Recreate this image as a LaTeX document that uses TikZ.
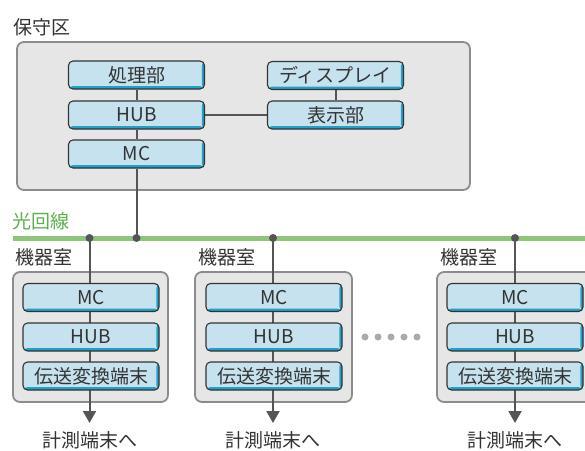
\documentclass[tikz,border=0pt]{standalone}
\usepackage{fontspec}
\newfontfamily\jp{Noto Sans CJK JP}
\usetikzlibrary{arrows.meta}
\pgfdeclarelayer{bg}
\pgfdeclarelayer{mid}
\pgfsetlayers{bg,mid,main}
\definecolor{panelfill}{HTML}{E6E6E6}
\definecolor{panelline}{HTML}{8C8C8C}
\definecolor{boxfill}{HTML}{C6E2EE}
\definecolor{boxline}{HTML}{333333}
\definecolor{shadowc}{HTML}{22A0C8}
\definecolor{textc}{HTML}{333333}
\definecolor{linec}{HTML}{555555}
\definecolor{greenline}{HTML}{8EC67C}
\definecolor{greentext}{HTML}{5AB04C}
\definecolor{dotsc}{HTML}{AAAAAA}
\tikzset{
  panel/.style={draw=panelline, line width=1.8pt, fill=panelfill, rounded corners=7pt, inner sep=0pt},
  ibox/.style={draw=boxline, line width=1.1pt, fill=boxfill, rounded corners=4.5pt,
    minimum width=136pt, minimum height=28pt, inner sep=0pt, text=textc,
    font=\jp\fontsize{19pt}{22pt}\selectfont,
    path picture={
      \fill[shadowc] ([yshift=3pt]path picture bounding box.south west) rectangle (path picture bounding box.south east);
      \fill[shadowc] ([xshift=-2.6pt]path picture bounding box.north east) rectangle (path picture bounding box.south east);
    }},
  lbl/.style={text=textc, inner sep=0pt, font=\jp\fontsize{19pt}{22pt}\selectfont},
  conn/.style={draw=linec, line width=2pt},
  jdot/.style={circle, fill=linec, inner sep=0pt, minimum size=8pt},
  edot/.style={circle, fill=dotsc, inner sep=0pt, minimum size=7pt},
  arr/.style={conn, -{Triangle[length=12pt, width=13pt]}}
}
\begin{document}
\begin{tikzpicture}[x=1pt, y=-1pt]
\useasboundingbox (0,0) rectangle (585,450);
\clip (0,0) rectangle (585,450);

% ---------- maintenance area ----------
\node[lbl, anchor=west] (hlabel) at (13,27) {保守区};
\begin{pgfonlayer}{bg}
\node[panel, minimum width=453pt, minimum height=148pt] (hoshu) at (243.5,116) {};
\end{pgfonlayer}
\node[ibox] (proc) at (136.5,75) {処理部};
\node[ibox] (hub0) at (136.5,115) {HUB};
\node[ibox] (mc0)  at (136.5,154) {MC};
\node[ibox] (disp) at (335.5,75.5) {ディスプレイ};
\node[ibox] (show) at (335.5,115) {表示部};

% ---------- optical line ----------
\node[lbl, anchor=west, text=greentext] (glabel) at (12,221) {光回線};
\coordinate (gl) at (13,238);
\coordinate (gr) at (590,238);
\begin{pgfonlayer}{bg}
\draw[greenline, line width=5pt] (gl) -- (gr);
\end{pgfonlayer}
\node[jdot] (d0) at (136.5,238) {};
\node[jdot] (d1) at (89.5,238) {};
\node[jdot] (d2) at (273,238) {};
\node[jdot] (d3) at (515,238) {};

% ---------- equipment rooms ----------
\node[lbl, anchor=west] (r1label) at (15,257) {機器室};
\node[lbl, anchor=west] (r2label) at (198,257) {機器室};
\node[lbl, anchor=west] (r3label) at (440,257) {機器室};
\begin{pgfonlayer}{bg}
\node[panel, minimum width=155pt, minimum height=130pt] (room1) at (90.5,337) {};
\node[panel, minimum width=157pt, minimum height=130pt] (room2) at (273.5,337) {};
\node[panel, minimum width=157pt, minimum height=130pt] (room3) at (515.5,337) {};
\end{pgfonlayer}

\node[ibox] (mc1)  at (91,297.5) {MC};
\node[ibox] (hub1) at (91,337) {HUB};
\node[ibox] (tr1)  at (91,376) {伝送変換端末};
\node[ibox] (mc2)  at (274,297.5) {MC};
\node[ibox] (hub2) at (274,337) {HUB};
\node[ibox] (tr2)  at (274,376) {伝送変換端末};
\node[ibox] (mc3)  at (515,297.5) {MC};
\node[ibox] (hub3) at (515,337) {HUB};
\node[ibox] (tr3)  at (515,376) {伝送変換端末};

\coordinate (a1) at (89.5,423);
\coordinate (a2) at (273,423);
\coordinate (a3) at (515,423);
\node[lbl] (t1) at (89.5,440) {計測端末へ};
\node[lbl] (t2) at (273,440) {計測端末へ};
\node[lbl] (t3) at (515,440) {計測端末へ};

% ellipsis dots
\foreach \i/\xx in {1/365,2/378,3/391,4/404,5/417}{
  \node[edot] (e\i) at (\xx,337) {};
}

% ---------- connectors ----------
\begin{pgfonlayer}{mid}
\draw[conn] (proc.south) -- (hub0.north);
\draw[conn] (hub0.south) -- (mc0.north);
\draw[conn] (hub0.east) -- (show.west);
\draw[conn] (disp.south) -- (show.north);
\draw[conn] (mc0.south) -- (d0.center);
\draw[arr] (d1.center) -- (a1);
\draw[arr] (d2.center) -- (a2);
\draw[arr] (d3.center) -- (a3);
\end{pgfonlayer}
\end{tikzpicture}
\end{document}
